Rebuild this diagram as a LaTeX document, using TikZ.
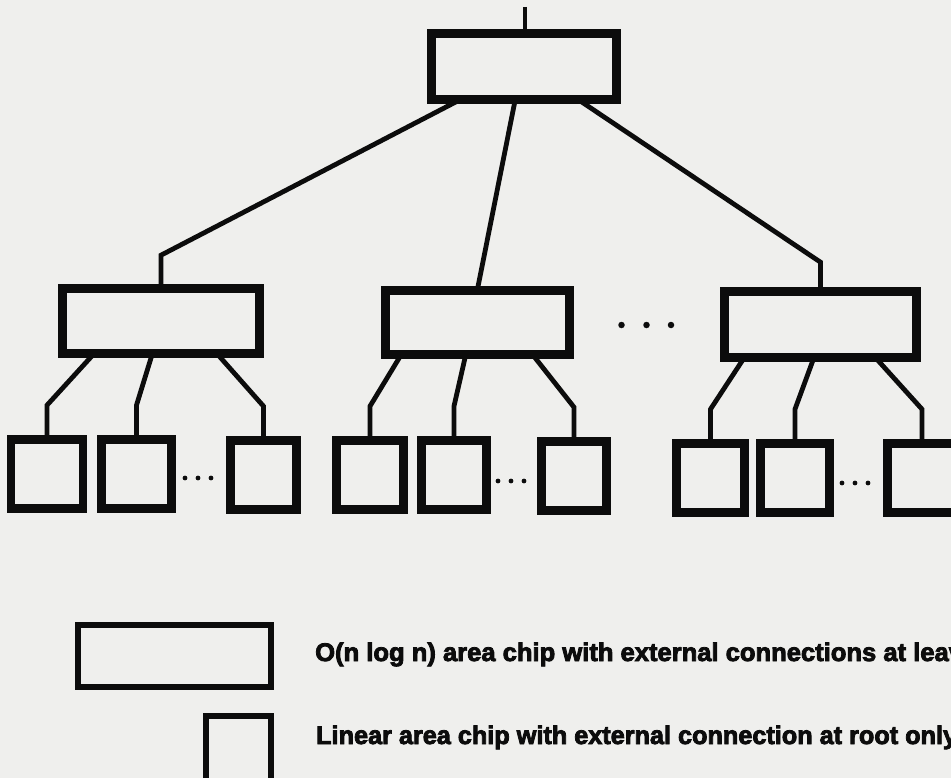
\documentclass[tikz,border=0pt]{standalone}
\usepackage{graphicx}
\usepackage{fontspec}
\newfontfamily\legendfont[FakeBold=3.2]{Liberation Sans Bold}
\newlength\wA
\newlength\wB
\definecolor{paper}{RGB}{239,239,237}
\definecolor{ink}{RGB}{12,12,12}
\tikzset{
  chip/.style={draw=ink, line width=5.6pt, inner sep=0pt, fill=paper},
  conn/.style={draw=ink, line width=4.8pt, line join=miter},
  dotbig/.style={fill=ink, circle, inner sep=0pt, minimum size=6.5pt},
  dotsmall/.style={fill=ink, circle, inner sep=0pt, minimum size=4.8pt},
  legend/.style={anchor=base west, inner sep=0pt, text=ink}
}
\begin{document}
\settowidth\wA{\fontsize{25.5}{26}\selectfont\legendfont O(n log n) area chip with external connections at }
\settowidth\wB{\fontsize{25.5}{26}\selectfont\legendfont Linear area chip with external connection at root }
\pgfmathsetmacro\sA{598/\wA}
\pgfmathsetmacro\sB{589/\wB}
\begin{tikzpicture}[x=1pt,y=-1pt]
\useasboundingbox (0,0) rectangle (951,778);
\clip (0,0) rectangle (951,778);
\fill[paper] (0,0) rectangle (951,778);

% boxes (positions)
\node[chip, minimum width=182pt, minimum height=63pt] (top) at (524,66.5) {};
\node[chip, minimum width=194pt, minimum height=62pt] (m1) at (161,321) {};
\node[chip, minimum width=181pt, minimum height=61pt] (m2) at (477.5,322.5) {};
\node[chip, minimum width=189pt, minimum height=63pt] (m3) at (820.5,324.5) {};

\node[chip, minimum width=69pt, minimum height=66pt] (l1) at (47,474) {};
\node[chip, minimum width=67pt, minimum height=66pt] (l2) at (136.5,474) {};
\node[chip, minimum width=63pt, minimum height=66pt] (l3) at (263.5,475) {};
\node[chip, minimum width=64pt, minimum height=66pt] (l4) at (370,475) {};
\node[chip, minimum width=62pt, minimum height=66pt] (l5) at (454,475) {};
\node[chip, minimum width=62pt, minimum height=66pt] (l6) at (574,476) {};
\node[chip, minimum width=65pt, minimum height=66pt] (l7) at (710.5,478) {};
\node[chip, minimum width=66pt, minimum height=66pt] (l8) at (795,478) {};
\node[chip, minimum width=66pt, minimum height=66pt] (l9) at (922,478) {};

\coordinate (rootend) at (525,7);

% connectors
\draw[conn] (rootend) -- (top.north -| rootend);
\draw[conn] ([xshift=-66pt]top.south) -- ([yshift=32pt]m1.north) -- (m1.north);
\draw[conn] ([xshift=-9pt]top.south) -- (m2.north);
\draw[conn] ([xshift=56pt]top.south) -- ([yshift=28pt]m3.north) -- (m3.north);

\draw[conn] ([xshift=-68pt]m1.south) -- ([yshift=33pt]l1.north) -- (l1.north);
\draw[conn] ([xshift=-9pt]m1.south) -- ([yshift=33pt]l2.north) -- (l2.north);
\draw[conn] ([xshift=57pt]m1.south) -- ([yshift=33pt]l3.north) -- (l3.north);
\draw[conn] ([xshift=-77pt]m2.south) -- ([yshift=33pt]l4.north) -- (l4.north);
\draw[conn] ([xshift=-12pt]m2.south) -- ([yshift=33pt]l5.north) -- (l5.north);
\draw[conn] ([xshift=56pt]m2.south) -- ([yshift=33pt]l6.north) -- (l6.north);
\draw[conn] ([xshift=-77pt]m3.south) -- ([yshift=33pt]l7.north) -- (l7.north);
\draw[conn] ([xshift=-7pt]m3.south) -- ([yshift=33pt]l8.north) -- (l8.north);
\draw[conn] ([xshift=56pt]m3.south) -- ([yshift=33pt]l9.north) -- (l9.north);

% redraw box outlines over connector ends
\foreach \n in {top,m1,m2,m3,l1,l2,l3,l4,l5,l6,l7,l8,l9}{
  \draw[ink, line width=5.6pt] (\n.north west) rectangle (\n.south east);
}

% ellipses
\node[dotbig] (d1) at (621.5,325) {};
\node[dotbig] (d2) at (646.5,325) {};
\node[dotbig] (d3) at (671,325) {};
\node[dotsmall] (e1) at (185,478) {};
\node[dotsmall] (e2) at (198,478) {};
\node[dotsmall] (e3) at (211,478) {};
\node[dotsmall] (f1) at (498,481) {};
\node[dotsmall] (f2) at (511,481) {};
\node[dotsmall] (f3) at (524,481) {};
\node[dotsmall] (g1) at (842,483) {};
\node[dotsmall] (g2) at (855,483) {};
\node[dotsmall] (g3) at (868,483) {};

% legend
\node[chip, minimum width=193pt, minimum height=62pt] (lgbig) at (174.5,656) {};
\node[chip, minimum width=65pt, minimum height=66pt] (lgsmall) at (238.5,749) {};
\node[legend] (t1) at (315,661) {\scalebox{\sA}[1]{\fontsize{25.5}{26}\selectfont\legendfont O(n log n) area chip with external connections at leaves}};
\node[legend] (t2) at (316,744) {\scalebox{\sB}[1]{\fontsize{25.5}{26}\selectfont\legendfont Linear area chip with external connection at root only}};
\end{tikzpicture}
\end{document}
